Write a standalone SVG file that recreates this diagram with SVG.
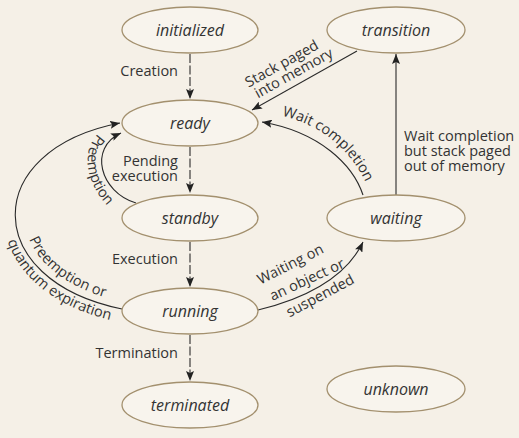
<svg xmlns="http://www.w3.org/2000/svg" xmlns:xlink="http://www.w3.org/1999/xlink" width="519" height="438" viewBox="0 0 519 438">
<style>
.node ellipse{fill:#f8f4ed;stroke:#a3906e;stroke-width:1.3}
.node text{font-family:"Open Sans","DejaVu Sans",sans-serif;font-style:italic;font-size:16px;fill:#333;text-anchor:middle}
.lbl{font-family:"Open Sans","DejaVu Sans",sans-serif;font-size:14.5px;fill:#333}
.e{text-anchor:end}
.m{text-anchor:middle}
.edge{fill:none;stroke:#2a2a2a;stroke-width:1.1}
.dash{stroke-dasharray:9 2.5}
</style>
<defs>
<marker id="ah" viewBox="0 0 10 8" refX="10" refY="4" markerWidth="10" markerHeight="8" orient="auto" markerUnits="userSpaceOnUse">
<path d="M0,0 L10,4 L0,8 L2,4 z" fill="#222"/>
</marker>
<path id="p-wc" d="M 282 116 C 325 125, 358 156, 372 198"/>
<path id="p-pre" d="M 98 134 C 80 150, 84 192, 122 218"/>
<path id="p-in" d="M 122 130 C -9 154, -9 275, 124 302"/>
<path id="p-out" d="M 116 111 C -36 140, -34 292, 120 322"/>
</defs>
<rect width="519" height="438" fill="#f5f0e7"/>
<g id="connectors">
<path class="edge dash" d="M190 54 L190 99" marker-end="url(#ah)"/>
<path class="edge dash" d="M190 147 L190 193" marker-end="url(#ah)"/>
<path class="edge dash" d="M190 242 L190 287" marker-end="url(#ah)"/>
<path class="edge dash" d="M190 335 L190 381" marker-end="url(#ah)"/>
<path class="edge" d="M357 51 L252 110" marker-end="url(#ah)"/>
<path class="edge" d="M396 195 L396 54" marker-end="url(#ah)"/>
<path class="edge" d="M363 195 C 353 165, 320 132, 262 122" marker-end="url(#ah)"/>
<path class="edge" d="M258 310 C 300 300, 345 280, 363 242" marker-end="url(#ah)"/>
<path class="edge" d="M136 203 C 100 192, 88 148, 121 133" marker-end="url(#ah)"/>
<path class="edge" d="M122 309 C -20 280, -20 150, 120 123" marker-end="url(#ah)"/>
<text class="lbl e" x="178" y="76">Creation</text>
<text class="lbl e" x="178" y="166">Pending</text>
<text class="lbl e" x="178" y="181">execution</text>
<text class="lbl e" x="178" y="264">Execution</text>
<text class="lbl e" x="178" y="358">Termination</text>
<text class="lbl" x="404" y="141">Wait completion</text>
<text class="lbl" x="404" y="156">but stack paged</text>
<text class="lbl" x="404" y="171">out of memory</text>
<g transform="translate(284,68) rotate(-29)">
<text class="lbl m" x="0" y="0">Stack paged</text>
<text class="lbl m" x="6" y="14">into memory</text>
</g>
<text class="lbl m" transform="translate(292.5,268.5) rotate(-27)">Waiting on</text>
<text class="lbl m" transform="translate(309,284) rotate(-25)">an object or</text>
<text class="lbl m" transform="translate(322.5,300) rotate(-28)">suspended</text>
<text class="lbl"><textPath xlink:href="#p-wc" href="#p-wc">Wait completion</textPath></text>
<text class="lbl"><textPath xlink:href="#p-pre" href="#p-pre">Preemption</textPath></text>
<text class="lbl e"><textPath xlink:href="#p-in" href="#p-in" startOffset="93%">Preemption or</textPath></text>
<text class="lbl e"><textPath xlink:href="#p-out" href="#p-out" startOffset="97%">quantum expiration</textPath></text>
</g>
<g id="initialized" class="node"><ellipse cx="190" cy="30" rx="68" ry="23"/><text x="190" y="35.5">initialized</text></g>
<g id="ready" class="node"><ellipse cx="190" cy="123" rx="68" ry="23"/><text x="190" y="128.5">ready</text></g>
<g id="standby" class="node"><ellipse cx="190" cy="218" rx="68" ry="23"/><text x="190" y="223.5">standby</text></g>
<g id="running" class="node"><ellipse cx="190" cy="311" rx="68" ry="23"/><text x="190" y="316.5">running</text></g>
<g id="terminated" class="node"><ellipse cx="190" cy="405" rx="68" ry="23"/><text x="190" y="410.5">terminated</text></g>
<g id="transition" class="node"><ellipse cx="396" cy="30" rx="69" ry="23"/><text x="396" y="35.5">transition</text></g>
<g id="waiting" class="node"><ellipse cx="396" cy="218" rx="69" ry="23"/><text x="396" y="223.5">waiting</text></g>
<g id="unknown" class="node"><ellipse cx="396" cy="389" rx="69" ry="23"/><text x="396" y="394.5">unknown</text></g>
</svg>
